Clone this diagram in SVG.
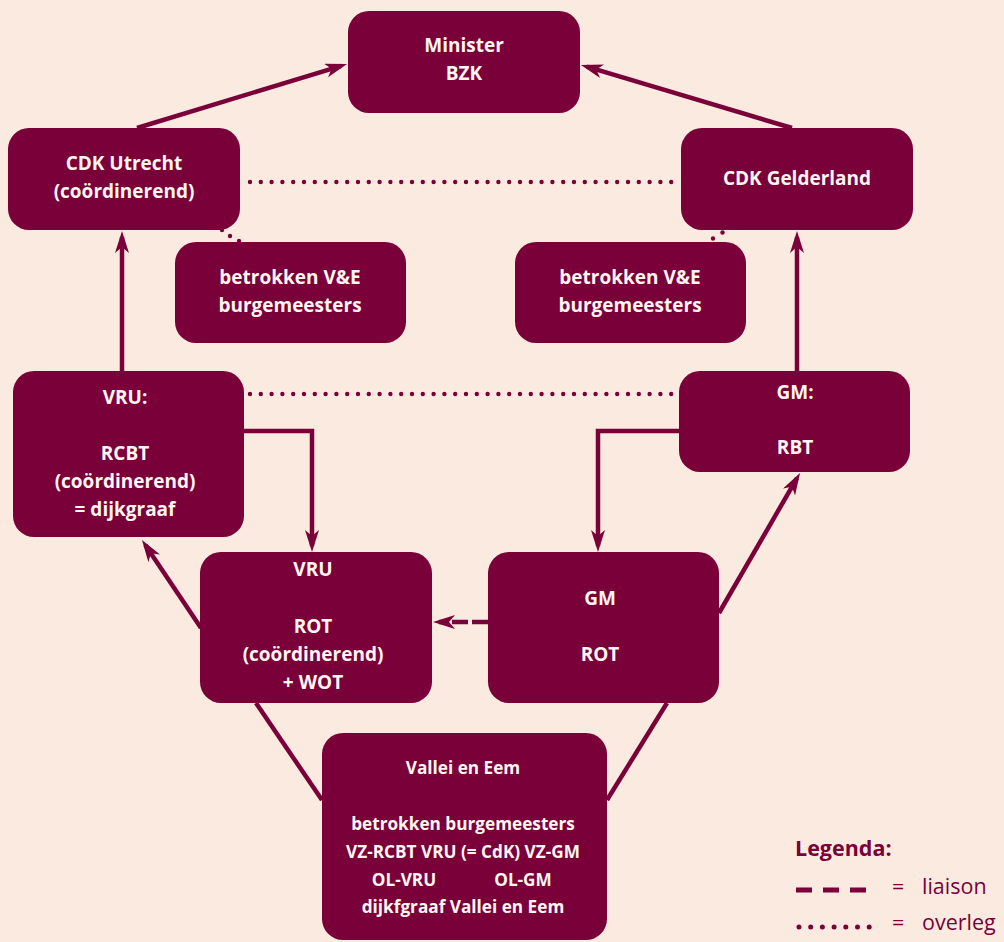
<svg xmlns="http://www.w3.org/2000/svg" width="1004" height="942" viewBox="0 0 1004 942">
<defs>
<style>
.box{fill:#7A0039}
.t{font-family:"Open Sans","Liberation Sans",sans-serif;font-weight:700;font-size:19px;fill:#FFF6F0;text-anchor:middle}
.ts{font-family:"Open Sans","Liberation Sans",sans-serif;font-weight:700;font-size:17.2px;fill:#FFF6F0;text-anchor:middle}
.ln{stroke:#7A0039;stroke-width:4.5;fill:none}
.arr{marker-end:url(#ah)}
.dot{stroke:#7A0039;stroke-width:4.4;stroke-linecap:round;stroke-dasharray:0 10.8;fill:none}
.dc{fill:#7A0039}
.lg{font-family:"Open Sans","Liberation Sans",sans-serif;font-size:21.5px;fill:#7A0039}
</style>
<marker id="ah" markerUnits="userSpaceOnUse" markerWidth="24" markerHeight="16" refX="16" refY="7" orient="auto">
<path d="M0,0 L22,7 L0,14 L6,7 Z" fill="#7A0039"/>
</marker>
</defs>
<rect width="1004" height="942" fill="#FBEADF"/>
<g id="connectors">
<line class="ln arr" x1="137" y1="128" x2="341.3" y2="65.8"/>
<line class="ln arr" x1="792" y1="128" x2="586.7" y2="66.7"/>
<line class="ln arr" x1="122" y1="371" x2="122" y2="237"/>
<line class="ln arr" x1="797" y1="371" x2="797" y2="237"/>
<path class="ln arr" d="M244,431 H312 V546"/>
<path class="ln arr" d="M679,431 H598 V546"/>
<line class="ln arr" x1="719" y1="613" x2="797" y2="478.2"/>
<line class="ln arr" x1="201" y1="628" x2="145.3" y2="545"/>
<line class="ln arr" x1="488" y1="622" x2="439" y2="622" stroke-dasharray="16 4"/>
<line class="ln" x1="256" y1="703" x2="322" y2="800"/>
<line class="ln" x1="667" y1="703" x2="607" y2="800"/>
<line class="dot" x1="250" y1="182" x2="681" y2="182"/>
<line class="dot" x1="250" y1="394" x2="679" y2="394"/>
<circle class="dc" cx="222" cy="230" r="2.2"/>
<circle class="dc" cx="230" cy="236" r="2.2"/>
<circle class="dc" cx="239" cy="241" r="2.2"/>
<circle class="dc" cx="722.5" cy="232.5" r="2.2"/>
<circle class="dc" cx="713" cy="238.5" r="2.2"/>
</g>
<g id="minister">
<rect class="box" x="348" y="11" width="232" height="102" rx="21"/>
<text class="t" x="464" y="52">Minister</text>
<text class="t" x="464" y="80">BZK</text>
</g>
<g id="cdk-utrecht">
<rect class="box" x="8" y="128" width="232" height="102" rx="21"/>
<text class="t" x="124" y="170">CDK Utrecht</text>
<text class="t" x="124" y="198">(coördinerend)</text>
</g>
<g id="cdk-gelderland">
<rect class="box" x="681" y="128" width="232" height="102" rx="21"/>
<text class="t" x="797" y="185">CDK Gelderland</text>
</g>
<g id="ve-left">
<rect class="box" x="175" y="242" width="231" height="101" rx="21"/>
<text class="t" x="290" y="284">betrokken V&amp;E</text>
<text class="t" x="290" y="312">burgemeesters</text>
</g>
<g id="ve-right">
<rect class="box" x="515" y="242" width="231" height="101" rx="21"/>
<text class="t" x="630" y="284">betrokken V&amp;E</text>
<text class="t" x="630" y="312">burgemeesters</text>
</g>
<g id="vru-rcbt">
<rect class="box" x="13" y="371" width="231" height="166" rx="21"/>
<text class="t" x="125" y="404">VRU:</text>
<text class="t" x="125" y="460">RCBT</text>
<text class="t" x="125" y="488">(coördinerend)</text>
<text class="t" x="125" y="516">= dijkgraaf</text>
</g>
<g id="gm-rbt">
<rect class="box" x="679" y="371" width="231" height="101" rx="21"/>
<text class="t" x="795" y="399">GM:</text>
<text class="t" x="795" y="454">RBT</text>
</g>
<g id="vru-rot">
<rect class="box" x="200" y="552" width="232" height="151" rx="21"/>
<text class="t" x="313" y="576">VRU</text>
<text class="t" x="313" y="633">ROT</text>
<text class="t" x="313" y="661">(coördinerend)</text>
<text class="t" x="313" y="689">+ WOT</text>
</g>
<g id="gm-rot">
<rect class="box" x="488" y="552" width="231" height="151" rx="21"/>
<text class="t" x="600" y="605">GM</text>
<text class="t" x="600" y="661">ROT</text>
</g>
<g id="vallei">
<rect class="box" x="322" y="733" width="285" height="207" rx="21"/>
<text class="ts" x="463" y="774">Vallei en Eem</text>
<text class="ts" x="463" y="830">betrokken burgemeesters</text>
<text class="ts" x="463" y="858">VZ-RCBT VRU (= CdK) VZ-GM</text>
<text class="ts" x="404" y="886">OL-VRU</text>
<text class="ts" x="523" y="886">OL-GM</text>
<text class="ts" x="463" y="913">dijkfgraaf Vallei en Eem</text>
</g>
<g id="legend">
<text class="lg" x="795" y="856" font-weight="700">Legenda:</text>
<line x1="796" y1="890" x2="866" y2="890" stroke="#7A0039" stroke-width="5" stroke-dasharray="16 11"/>
<text class="lg" x="892" y="894">=</text>
<text class="lg" x="922" y="894">liaison</text>
<line x1="799" y1="927" x2="871" y2="927" stroke="#7A0039" stroke-width="5" stroke-linecap="round" stroke-dasharray="0 11.7"/>
<text class="lg" x="892" y="930">=</text>
<text class="lg" x="922" y="930">overleg</text>
</g>
</svg>
